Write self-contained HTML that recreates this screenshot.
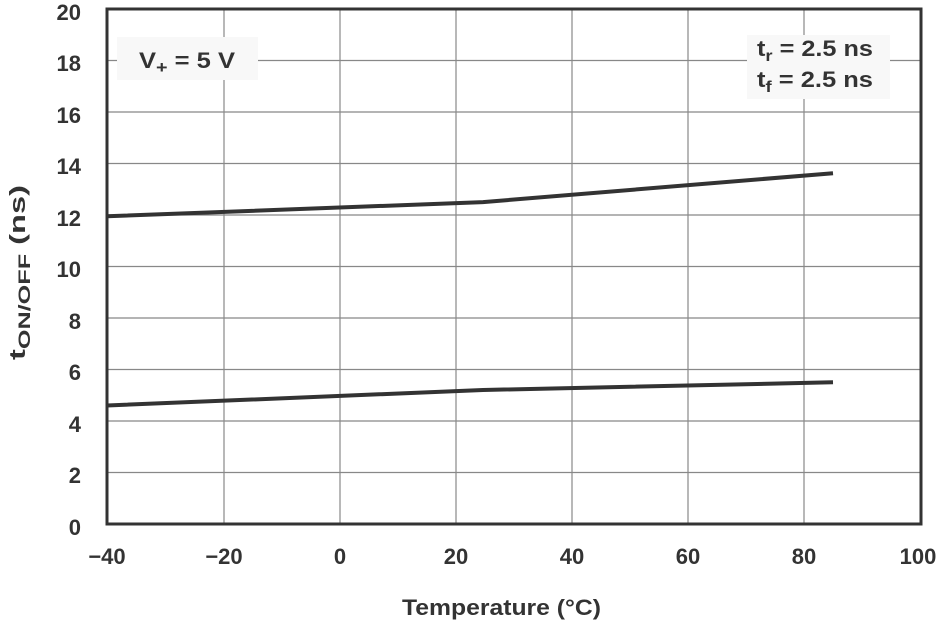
<!DOCTYPE html>
<html><head><meta charset="utf-8"><style>
body{margin:0;background:#fff}
text{font-family:"Liberation Sans",Arial,sans-serif;font-weight:bold;fill:#333}
</style></head><body>
<svg width="939" height="622" viewBox="0 0 939 622" xmlns="http://www.w3.org/2000/svg">
<g stroke="#888" stroke-width="1.2">
<line x1="224" y1="9" x2="224" y2="524"/><line x1="340" y1="9" x2="340" y2="524"/>
<line x1="456" y1="9" x2="456" y2="524"/><line x1="572" y1="9" x2="572" y2="524"/>
<line x1="688" y1="9" x2="688" y2="524"/><line x1="804" y1="9" x2="804" y2="524"/>
<line x1="106" y1="60.5" x2="921" y2="60.5"/><line x1="106" y1="112" x2="921" y2="112"/>
<line x1="106" y1="163.5" x2="921" y2="163.5"/><line x1="106" y1="215" x2="921" y2="215"/>
<line x1="106" y1="266.5" x2="921" y2="266.5"/><line x1="106" y1="318" x2="921" y2="318"/>
<line x1="106" y1="369.5" x2="921" y2="369.5"/><line x1="106" y1="421" x2="921" y2="421"/>
<line x1="106" y1="472.5" x2="921" y2="472.5"/>
</g>
<rect x="117" y="37" width="141" height="43" fill="#f8f8f8"/>
<rect x="747" y="35" width="143" height="64" fill="#f8f8f8"/>
<rect x="107" y="9" width="814" height="515" fill="none" stroke="#333" stroke-width="3"/>
<polyline points="107,216.3 483,202.1 833,173.2" fill="none" stroke="#333" stroke-width="4"/>
<polyline points="107,405.5 483,390 833,382.3" fill="none" stroke="#333" stroke-width="4"/>
<g font-size="22" text-anchor="end">
<text x="81" y="20">20</text><text x="81" y="71">18</text><text x="81" y="123">16</text>
<text x="81" y="174">14</text><text x="81" y="226">12</text><text x="81" y="277">10</text>
<text x="81" y="329">8</text><text x="81" y="380">6</text><text x="81" y="432">4</text>
<text x="81" y="483">2</text><text x="81" y="535">0</text>
</g>
<g font-size="22" text-anchor="middle">
<text x="107" y="564">−40</text><text x="224" y="564">−20</text><text x="340" y="564">0</text>
<text x="456" y="564">20</text><text x="572" y="564">40</text><text x="688" y="564">60</text>
<text x="804" y="564">80</text><text x="918" y="564">100</text>
</g>
<text x="402" y="615" font-size="22" textLength="199" lengthAdjust="spacingAndGlyphs">Temperature (°C)</text>
<text transform="translate(25,360) rotate(-90)" font-size="22" textLength="175" lengthAdjust="spacingAndGlyphs">t<tspan font-size="17" dy="5">ON/OFF</tspan><tspan dy="-5"> (ns)</tspan></text>
<text x="139" y="68" font-size="22" textLength="96" lengthAdjust="spacingAndGlyphs">V<tspan font-size="17" dy="5">+</tspan><tspan dy="-5"> = 5 V</tspan></text>
<text x="757" y="56" font-size="22" textLength="116" lengthAdjust="spacingAndGlyphs">t<tspan font-size="16" dy="5">r</tspan><tspan dy="-5"> = 2.5 ns</tspan></text>
<text x="757" y="87" font-size="22" textLength="116" lengthAdjust="spacingAndGlyphs">t<tspan font-size="16" dy="5">f</tspan><tspan dy="-5"> = 2.5 ns</tspan></text>
</svg>
</body></html>
